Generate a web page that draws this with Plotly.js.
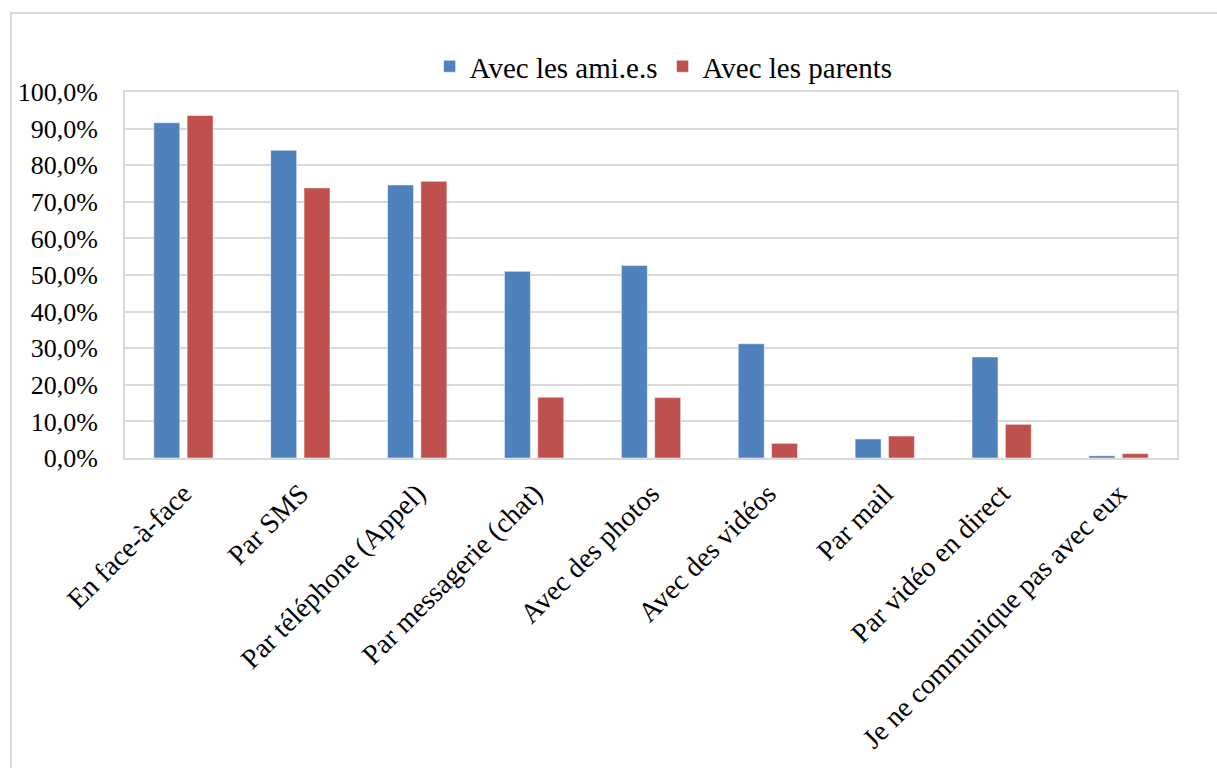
<!DOCTYPE html>
<html>
<head>
<meta charset="utf-8">
<script src="https://cdn.plot.ly/plotly-3.0.1.min.js"></script>
<style>
  html, body { margin: 0; padding: 0; background: #ffffff; overflow: hidden; }
  #frame { position: absolute; left: 10px; top: 12px; width: 1400px; height: 1000px; border: 2px solid #d9d9d9; }
  #chart { position: absolute; left: 0; top: 0; width: 1217px; height: 768px; }
</style>
</head>
<body>
<div id="frame"></div>
<div id="chart"></div>
<script>
const categories = [
  "En face-à-face",
  "Par SMS",
  "Par téléphone (Appel)",
  "Par messagerie (chat)",
  "Avec des photos",
  "Avec des vidéos",
  "Par mail",
  "Par vidéo en direct",
  "Je ne communique pas avec eux"
];
const seriesNames = ["Avec les ami.e.s", "Avec les parents"];
const amis = [0.916, 0.841, 0.746, 0.510, 0.526, 0.312, 0.052, 0.276, 0.006];
const parents = [0.936, 0.738, 0.756, 0.166, 0.165, 0.040, 0.060, 0.092, 0.012];
const yTickVals = [0, 0.1, 0.2, 0.3, 0.4, 0.5, 0.6, 0.7, 0.8, 0.9, 1.0];

const FONT = "Liberation Serif, Times New Roman, serif";

const traces = [
  {
    type: "bar", name: seriesNames[0], x: categories, y: amis,
    marker: { color: "#4F81BD", line: { color: "rgba(255,255,255,0.5)", width: 1 } },
    hoverinfo: "none"
  },
  {
    type: "bar", name: seriesNames[1], x: categories, y: parents,
    marker: { color: "#C0504D", line: { color: "rgba(255,255,255,0.5)", width: 1 } },
    hoverinfo: "none"
  }
];

const layout = {
  width: 1217, height: 768,
  paper_bgcolor: "rgba(0,0,0,0)",
  plot_bgcolor: "#ffffff",
  separators: ", ",
  font: { family: FONT, size: 26, color: "#000000" },
  margin: { l: 125, r: 40, t: 92, b: 310, pad: 0 },
  barmode: "group",
  bargap: 0.43,
  bargroupgap: 0.22,
  showlegend: true,
  legend: {
    orientation: "h",
    x: 0.512, xanchor: "center",
    y: 1.07, yanchor: "middle",
    font: { family: FONT, size: 29, color: "#000000" },
    bgcolor: "rgba(0,0,0,0)"
  },
  xaxis: {
    type: "category",
    tickangle: -45,
    tickfont: { family: FONT, size: 28, color: "#000000" },
    showline: true, linecolor: "#d9d9d9", linewidth: 2, mirror: true,
    showgrid: false,
    ticks: "outside", ticklen: 6, tickcolor: "rgba(0,0,0,0)",
    fixedrange: true
  },
  yaxis: {
    range: [0, 1],
    tickvals: yTickVals,
    tickformat: ".1%",
    tickfont: { family: FONT, size: 26, color: "#000000" },
    showgrid: true, gridcolor: "#d9d9d9", gridwidth: 2,
    showline: true, linecolor: "#d9d9d9", linewidth: 2, mirror: true,
    zeroline: false,
    ticks: "outside", ticklen: 20, tickcolor: "rgba(0,0,0,0)",
    fixedrange: true
  }
};

Plotly.newPlot("chart", traces, layout, { staticPlot: true, displayModeBar: false });
</script>
</body>
</html>
